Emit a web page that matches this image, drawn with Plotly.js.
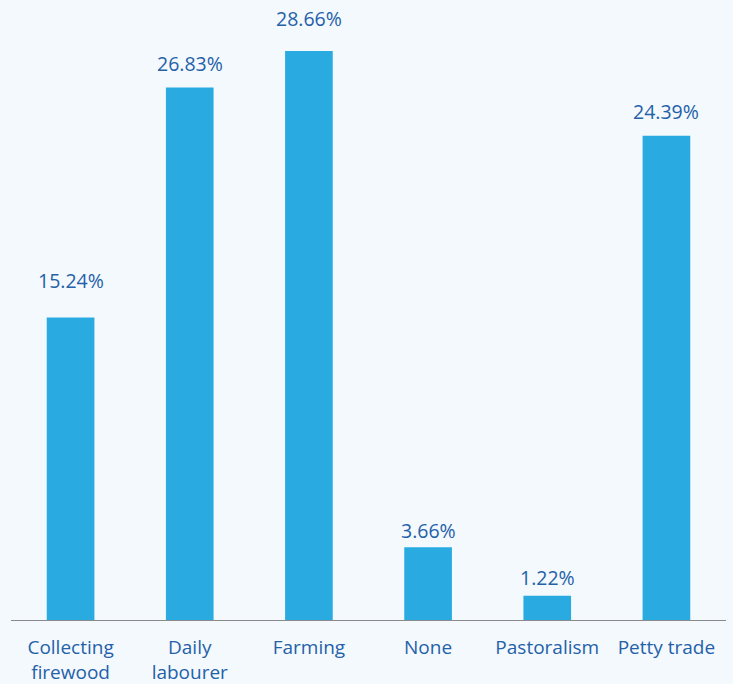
<!DOCTYPE html>
<html><head><meta charset="utf-8">
<script src="https://cdn.plot.ly/plotly-3.0.1.min.js"></script>
<style>html,body{margin:0;padding:0;background:#f4f9fe;}</style>
</head><body>
<div id="chart" style="width:733px;height:684px;"></div>
<script>
var categories = ["Collecting<br>firewood", "Daily<br>labourer", "Farming", "None", "Pastoralism", "Petty trade"];
var values = [15.24, 26.83, 28.66, 3.66, 1.22, 24.39];
var labels = ["15.24%", "26.83%", "28.66%", "3.66%", "1.22%", "24.39%"];
// label offsets above each bar (pixels), as placed in the original
var labelShift = [21, 8, 17, 1, 3, 9];

var textColor = "#2461a8";
var fontFam = "Open Sans, Noto Sans, sans-serif";
var trace = {
  type: "bar",
  x: categories,
  y: values,
  marker: {color: "#29abe2"},
  width: 0.4,
  hoverinfo: "none"
};
var annotations = categories.map(function(c, i){
  return {x: c, y: values[i], text: labels[i], showarrow: false, yanchor: "bottom", yshift: labelShift[i],
          font: {family: fontFam, size: 19.5, color: textColor}};
});
var layout = {
  width: 733, height: 684,
  margin: {l: 11, r: 7, t: 10, b: 64},
  paper_bgcolor: "#f4f9fe",
  plot_bgcolor: "#f4f9fe",
  showlegend: false,
  xaxis: {
    showline: true, linecolor: "#8a8a8a", linewidth: 1.2,
    tickfont: {family: fontFam, size: 19, color: textColor},
    ticklabelstandoff: 10,
    ticks: "", showgrid: false, zeroline: false
  },
  yaxis: {range: [0, 30.73], visible: false, showgrid: false, zeroline: false},
  annotations: annotations
};
Plotly.newPlot("chart", [trace], layout, {displayModeBar: false, staticPlot: true});
</script>
</body></html>
